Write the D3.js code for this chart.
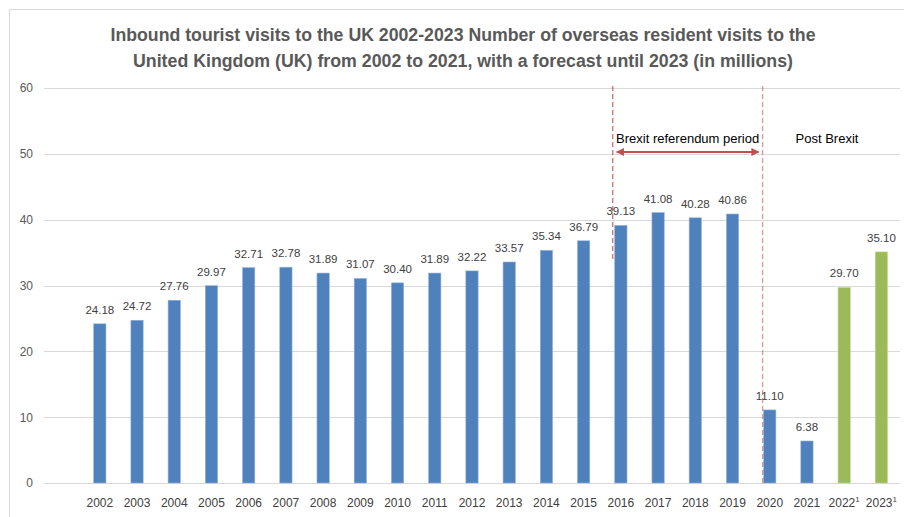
<!DOCTYPE html>
<html>
<head>
<meta charset="utf-8">
<script src="https://cdn.jsdelivr.net/npm/d3@7"></script>
<style>
  body { margin: 0; background: #fff; }
  svg { display: block; }
</style>
</head>
<body>
<svg id="chart" width="904" height="517"></svg>
<script>
// categories and values (millions of visits)
var years = ["2002","2003","2004","2005","2006","2007","2008","2009","2010","2011","2012",
             "2013","2014","2015","2016","2017","2018","2019","2020","2021","2022","2023"];
var visits = [24.18, 24.72, 27.76, 29.97, 32.71, 32.78, 31.89, 31.07, 30.40, 31.89, 32.22,
              33.57, 35.34, 36.79, 39.13, 41.08, 40.28, 40.86, 11.10, 6.38, 29.70, 35.10];
var forecastYears = ["2022","2023"];
var yTicks = [0, 10, 20, 30, 40, 50, 60];
var titleLines = ["Inbound tourist visits to the UK 2002-2023 Number of overseas resident visits to the",
                  "United Kingdom (UK) from 2002 to 2021, with a forecast until 2023 (in millions)"];

var W = 904, H = 517;
var plotL = 44, plotR = 900, plotT = 88, plotB = 483;
var font = "'Liberation Sans', Arial, sans-serif";

var svg = d3.select("#chart");

// outer frame (only top/left visible in the crop)
svg.append("rect")
  .attr("x", 9.5).attr("y", 9.5)
  .attr("width", W + 20).attr("height", H + 20)
  .attr("fill", "none").attr("stroke", "#d9d9d9");

// title
svg.append("g").selectAll("text")
  .data(titleLines)
  .join("text")
  .attr("x", 463)
  .attr("y", function(d, i) { return 41 + i*26; })
  .attr("text-anchor", "middle")
  .attr("font-family", font)
  .attr("font-weight", "bold")
  .attr("font-size", 18)
  .attr("fill", "#595959")
  .attr("textLength", function(d, i) { return i == 0 ? 705 : 660; })
  .attr("lengthAdjust", "spacingAndGlyphs")
  .text(function(d) { return d; });

var y = d3.scaleLinear().domain([0, 60]).range([plotB, plotT]);
// first band slot is left empty in the original, bars start one slot in
var x = d3.scaleBand().domain(years).range([plotL + 37.2, plotR]).paddingInner(0.67).paddingOuter(0.335);

// gridlines
svg.append("g").selectAll("line")
  .data(yTicks)
  .join("line")
  .attr("x1", plotL).attr("x2", plotR)
  .attr("y1", function(d) { return Math.round(y(d)) + 0.5; })
  .attr("y2", function(d) { return Math.round(y(d)) + 0.5; })
  .attr("stroke", "#d9d9d9").attr("stroke-width", 1.2);

// y axis labels
var yAxis = svg.append("g")
  .attr("transform", "translate(33,0)")
  .call(d3.axisLeft(y).tickValues(yTicks).tickSize(0).tickPadding(0));
yAxis.select(".domain").remove();
yAxis.selectAll("text")
  .attr("font-family", font).attr("font-size", 12).attr("fill", "#595959");

// bars
svg.append("g").selectAll("rect")
  .data(years)
  .join("rect")
  .attr("x", function(d) { return x(d); })
  .attr("y", function(d, i) { return y(visits[i]); })
  .attr("width", x.bandwidth())
  .attr("height", function(d, i) { return plotB - y(visits[i]); })
  .attr("fill", function(d) { return forecastYears.indexOf(d) >= 0 ? "#9bbb59" : "#4f81bd"; })
  .attr("stroke", function(d) { return forecastYears.indexOf(d) >= 0 ? "#c3d69b" : "#95b3d7"; })
  .attr("stroke-width", 0.6);

// value labels
svg.append("g").selectAll("text")
  .data(years)
  .join("text")
  .attr("x", function(d) { return x(d) + x.bandwidth()/2; })
  .attr("y", function(d, i) { return y(visits[i]) - 10; })
  .attr("text-anchor", "middle")
  .attr("font-family", font).attr("font-size", 11.5)
  .attr("fill", "#404040")
  .text(function(d, i) { return visits[i].toFixed(2); });

// x axis labels
var xLab = svg.append("g").selectAll("text")
  .data(years)
  .join("text")
  .attr("x", function(d) { return x(d) + x.bandwidth()/2; })
  .attr("y", 507)
  .attr("text-anchor", "middle")
  .attr("font-family", font).attr("font-size", 12)
  .attr("fill", "#404040");
xLab.append("tspan").text(function(d) { return d; });
xLab.filter(function(d) { return forecastYears.indexOf(d) >= 0; })
  .append("tspan").attr("font-size", 8).attr("dy", -5).text("1");

// brexit annotation
var red = "#c0504d";
var xa = x("2016") - 2, xb = x("2020") - 1;
svg.append("line")
  .attr("x1", xa).attr("x2", xa).attr("y1", plotT - 2).attr("y2", 260)
  .attr("stroke", red).attr("stroke-width", 1.2).attr("stroke-dasharray", "5,3").attr("opacity", 0.85);
svg.append("line")
  .attr("x1", xb).attr("x2", xb).attr("y1", plotT - 2).attr("y2", plotB)
  .attr("stroke", red).attr("stroke-width", 1.2).attr("stroke-dasharray", "5,3").attr("opacity", 0.6);

var defs = svg.append("defs");
defs.append("marker").attr("id", "ah").attr("viewBox", "0 0 10 10")
  .attr("refX", 9).attr("refY", 5).attr("markerWidth", 4).attr("markerHeight", 4)
  .attr("orient", "auto-start-reverse")
  .append("path").attr("d", "M0,0 L10,5 L0,10 z").attr("fill", red);

svg.append("line")
  .attr("x1", xa + 4).attr("x2", xb - 4).attr("y1", 152).attr("y2", 152)
  .attr("stroke", red).attr("stroke-width", 2)
  .attr("marker-start", "url(#ah)").attr("marker-end", "url(#ah)");

svg.append("text")
  .attr("x", (xa + xb)/2).attr("y", 143)
  .attr("text-anchor", "middle")
  .attr("font-family", font).attr("font-size", 13).attr("fill", "#000")
  .text("Brexit referendum period");
svg.append("text")
  .attr("x", 827).attr("y", 143)
  .attr("text-anchor", "middle")
  .attr("font-family", font).attr("font-size", 13).attr("fill", "#000")
  .text("Post Brexit");
</script>
</body>
</html>
